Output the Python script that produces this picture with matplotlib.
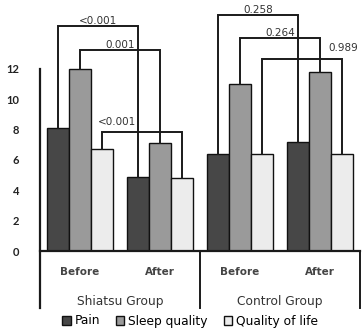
import matplotlib
matplotlib.use("Agg")
import matplotlib.pyplot as plt
import numpy as np
from matplotlib.patches import Patch

categories = ["Before", "After", "Before", "After"]
groups = ["Shiatsu Group", "Control Group"]
series = ["Pain", "Sleep quality", "Quality of life"]
pain = [8.1, 4.9, 6.4, 7.2]
sleep = [12.0, 7.1, 11.0, 11.8]
qol = [6.7, 4.8, 6.4, 6.4]
p_values = ["<0.001", "0.001", "<0.001", "0.258", "0.264", "0.989"]
yticks = [0, 2, 4, 6, 8, 10, 12]

colors = ["#474747", "#9a9a9a", "#ececec"]
plt.rcParams['font.family'] = ['DejaVu Sans']

W, H = 363, 329
fig = plt.figure(figsize=(W / 100, H / 100), dpi=100)
ax = fig.add_axes([40 / W, (H - 251) / H, 320 / W, 251 / H])
ax.set_xlim(-0.5, 3.5)
ax.set_ylim(0, 251 / 15.2)
ax.patch.set_alpha(0)

x = np.arange(len(categories))
bw = 0.275
data = [pain, sleep, qol]
for i, (vals, c) in enumerate(zip(data, colors)):
    ax.bar(x + (i - 1) * bw, vals, bw, color=c, edgecolor="#111111", linewidth=1.0, zorder=2)

for s in ["top", "right", "left", "bottom"]:
    ax.spines[s].set_visible(False)
ax.set_xticks([])
ax.set_yticks(yticks)
ax.tick_params(axis="y", length=0, pad=15, labelsize=8, labelcolor="#222222")
for t in ax.get_yticklabels():
    t.set_fontweight("bold")
    t.set_family("Lato")

lc = "#1a1a1a"
low = -3.75
ax.plot([-0.5, -0.5], [12, low], color=lc, lw=1.6, clip_on=False)
ax.plot([-0.5, 3.5], [0, 0], color=lc, lw=1.6, clip_on=False)
for xs in [1.5, 3.5]:
    ax.plot([xs, xs], [0, low], color=lc, lw=1.4, clip_on=False)

for xi, cat in zip(x, categories):
    ax.text(xi, -1.38, cat, ha="center", va="center", fontsize=7.5, fontweight="bold", color="#444444")
for gi, g in enumerate(groups):
    ax.text(0.5 + 2 * gi, -3.3, g, ha="center", va="center", fontsize=8.8, color="#333333")

brackets = [(0, 0, 14.8), (1, 0, 13.2), (2, 0, 7.8), (0, 2, 15.5), (1, 2, 14.0), (2, 2, 12.6)]
label_pos = [None, None, (0.46, 8.15), None, None, (3.29, 13.05)]
for k, (si, c0, h) in enumerate(brackets):
    x0 = c0 + (si - 1) * bw
    x1 = c0 + 1 + (si - 1) * bw
    y0 = data[si][c0]
    y1 = data[si][c0 + 1]
    ax.plot([x0, x0, x1, x1], [y0, h, h, y1], color=lc, lw=1.4, clip_on=False, zorder=3,
            solid_joinstyle="miter")
    if label_pos[k] is None:
        lx, ly = (x0 + x1) / 2, h + 0.02
    else:
        lx, ly = label_pos[k]
    ax.text(lx, ly, p_values[k], ha="center", va="bottom", fontsize=7.5, color="#333333", zorder=4)

handles = [Patch(facecolor=c, edgecolor="#111111", linewidth=1.0) for c in colors]
fig.legend(handles, series, loc="center", bbox_to_anchor=(190 / W, (H - 321) / H), ncol=3,
           frameon=False, fontsize=8.8, handlelength=0.7, handleheight=0.7, handletextpad=0.3,
           columnspacing=1.3, borderpad=0)

fig.savefig("out.png", dpi=100)
